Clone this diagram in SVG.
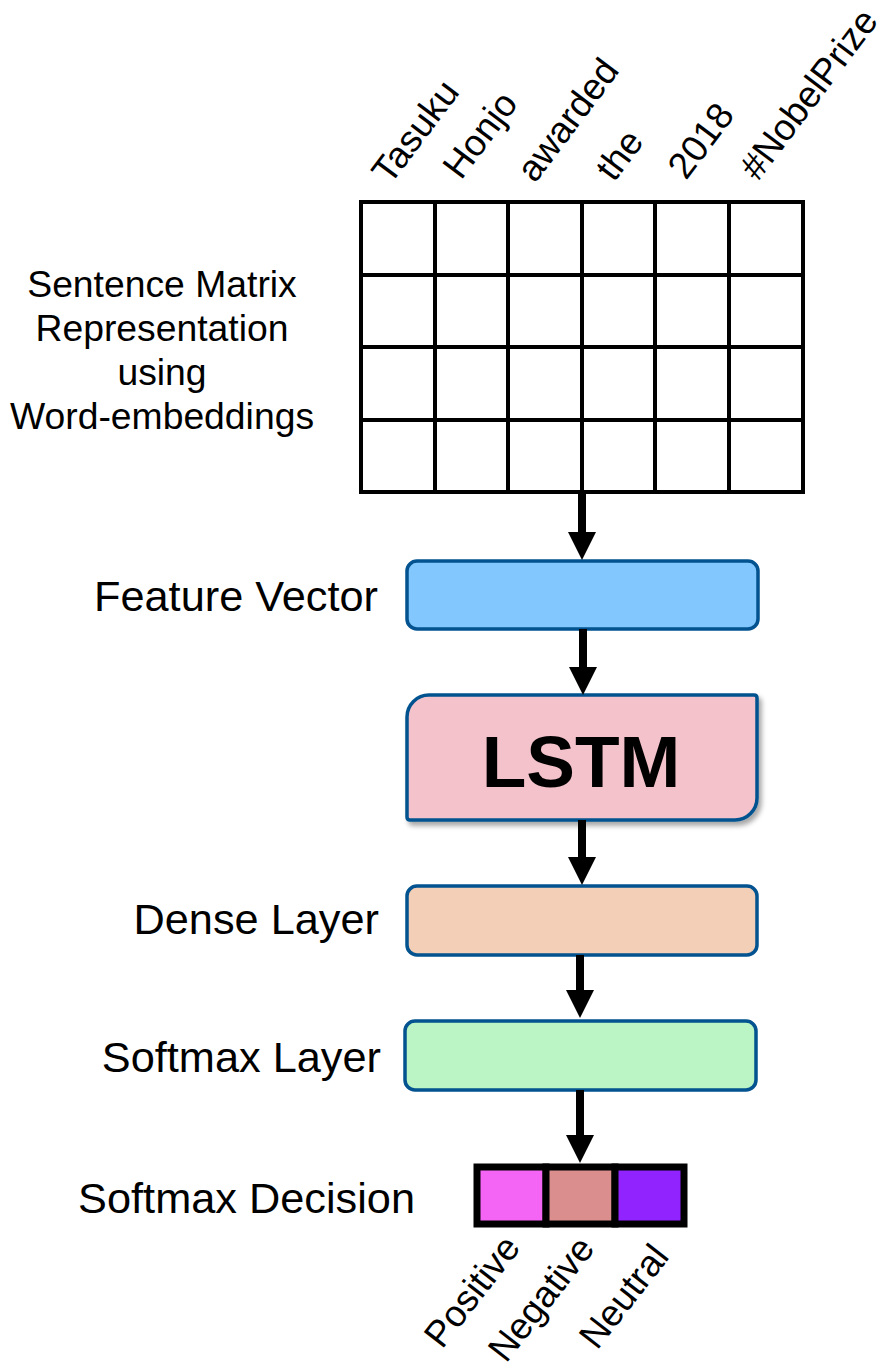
<svg xmlns="http://www.w3.org/2000/svg" width="880" height="1370" viewBox="0 0 880 1370">
<defs>
<style>
.lbl{font-family:"Liberation Sans",Arial,sans-serif;font-size:43.3px;fill:#000}
.sm{font-family:"Liberation Sans",Arial,sans-serif;font-size:37.3px;fill:#000}
.rot{font-family:"Liberation Sans",Arial,sans-serif;font-size:37px;fill:#000}
.grid{stroke:#000;stroke-width:4;fill:none}
.box{stroke:#02538F;stroke-width:3.5}
.arr{stroke:#000;stroke-width:8;fill:none}
.cell{stroke:#000;stroke-width:7}
</style>
<marker id="ah" markerUnits="userSpaceOnUse" markerWidth="28" markerHeight="28" refX="8" refY="14" orient="auto" viewBox="0 0 28 28">
<path d="M0,0 L28,14 L0,28 Z" fill="#000"/>
</marker>
<filter id="sh" x="-10%" y="-10%" width="130%" height="140%">
<feDropShadow dx="3" dy="4" stdDeviation="2.5" flood-color="#000" flood-opacity="0.35"/>
</filter>
</defs>
<rect width="880" height="1370" fill="#fff"/>

<g id="words">
<text class="rot" transform="translate(390,186) rotate(-53)">Tasuku</text>
<text class="rot" transform="translate(461,181) rotate(-53)">Honjo</text>
<text class="rot" transform="translate(535,184) rotate(-53)">awarded</text>
<text class="rot" transform="translate(614,183) rotate(-53)">the</text>
<text class="rot" transform="translate(686,181) rotate(-53)">2018</text>
<text class="rot" transform="translate(758,182) rotate(-53)">#NobelPrize</text>
</g>

<g id="matrix">
<rect class="grid" x="361" y="202" width="442" height="290"/>
<path class="grid" d="M435,202V492M508,202V492M582,202V492M655,202V492M729,202V492M361,275H803M361,347H803M361,420H803"/>
<text class="sm" text-anchor="middle" x="162" y="297">Sentence Matrix</text>
<text class="sm" text-anchor="middle" x="162" y="341">Representation</text>
<text class="sm" text-anchor="middle" x="162" y="385">using</text>
<text class="sm" text-anchor="middle" x="162" y="429">Word-embeddings</text>
</g>

<g id="feature">
<rect class="box" x="407" y="561" width="351" height="68" rx="10" fill="#82C8FF"/>
<text class="lbl" text-anchor="end" x="378" y="611">Feature Vector</text>
</g>

<g id="lstm">
<path class="box" filter="url(#sh)" fill="#F4C2CB" d="M429,695 H754 Q757,695 757,698 V798 A22,22 0 0 1 735,820 H410 Q407,820 407,817 V717 A22,22 0 0 1 429,695 Z"/>
<text text-anchor="middle" x="581" y="787" font-family="'Liberation Sans',Arial,sans-serif" font-weight="bold" font-size="73">LSTM</text>
</g>

<g id="dense">
<rect class="box" x="407" y="886" width="350" height="69" rx="10" fill="#F4CFB7"/>
<text class="lbl" text-anchor="end" x="379" y="934">Dense Layer</text>
</g>

<g id="softmax">
<rect class="box" x="405" y="1021" width="351" height="69" rx="10" fill="#BBF5C5"/>
<text class="lbl" text-anchor="end" x="381" y="1072">Softmax Layer</text>
</g>

<g id="decision">
<rect class="cell" x="477" y="1167" width="69" height="57" fill="#F565F5"/>
<rect class="cell" x="546" y="1167" width="69" height="57" fill="#DB8E8E"/>
<rect class="cell" x="615" y="1167" width="69" height="57" fill="#9123FF"/>
<text class="lbl" text-anchor="end" x="415" y="1213">Softmax Decision</text>
<text class="rot" transform="translate(442,1350) rotate(-52)">Positive</text>
<text class="rot" transform="translate(506,1364) rotate(-52)">Negative</text>
<text class="rot" transform="translate(597,1351) rotate(-52)">Neutral</text>
</g>

<g id="connectors">
<line class="arr" x1="582" y1="492" x2="582" y2="540" marker-end="url(#ah)"/>
<line class="arr" x1="583" y1="629" x2="583" y2="675" marker-end="url(#ah)"/>
<line class="arr" x1="582" y1="820" x2="582" y2="865" marker-end="url(#ah)"/>
<line class="arr" x1="580" y1="955" x2="580" y2="998" marker-end="url(#ah)"/>
<line class="arr" x1="580" y1="1090" x2="580" y2="1143" marker-end="url(#ah)"/>
</g>
</svg>
